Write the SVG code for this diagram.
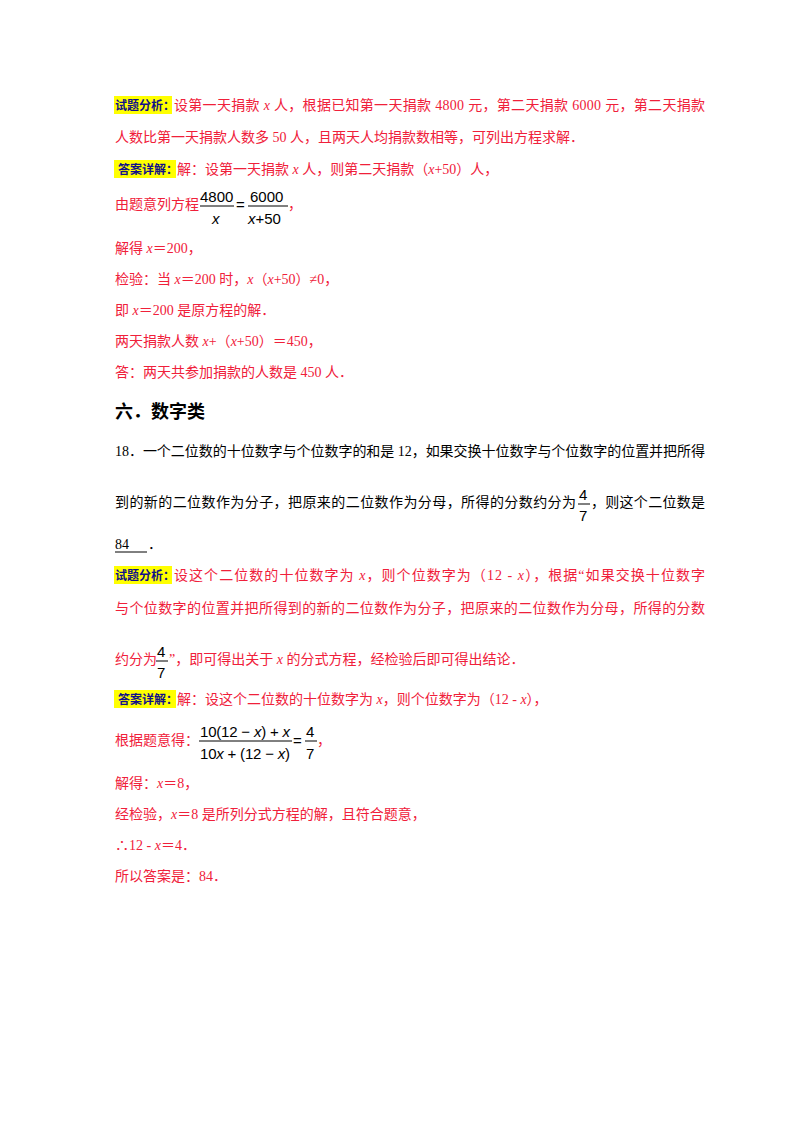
<svg xmlns="http://www.w3.org/2000/svg" width="800" height="1132" viewBox="0 0 800 1132">
<style>
text{font-family:"Liberation Serif","Noto Sans CJK SC",serif;font-size:14px}
.r{fill:#f0203a}
.k{fill:#000}
.lb{fill:#10108a;font-weight:bold;font-family:"Noto Sans CJK SC",sans-serif;font-size:12px}
.hl{fill:#ffff00}
.m{font-family:"Liberation Sans","Noto Sans CJK SC",sans-serif;fill:#000;font-size:15px}
.i{font-style:italic}
.fl{stroke:#000;stroke-width:1}
</style>
<rect width="800" height="1132" fill="#fff"/>
<g id="part1">
<rect class="hl" x="114" y="96" width="58" height="18"/>
<text class="lb" x="115" y="110">试题分析：</text>
<text class="r" x="174" y="110" textLength="531">设第一天捐款 <tspan class="i">x</tspan> 人，根据已知第一天捐款 4800 元，第二天捐款 6000 元，第二天捐款</text>
<text class="r" x="115" y="142">人数比第一天捐款人数多 50 人，且两天人均捐款数相等，可列出方程求解．</text>
<rect class="hl" x="114" y="160" width="62" height="18"/>
<text class="lb" x="118" y="174">答案详解：</text>
<text class="r" x="177" y="174">解：设第一天捐款 <tspan class="i">x</tspan> 人，则第二天捐款（<tspan class="i">x</tspan>+50）人，</text>
<text class="r" x="115" y="209">由题意列方程</text>
<text class="m" x="200" y="202">4800</text>
<line class="fl" x1="200" y1="206" x2="234" y2="206"/>
<text class="m i" x="212" y="224">x</text>
<text class="m" x="236" y="210">=</text>
<text class="m" x="250" y="202">6000</text>
<line class="fl" x1="248" y1="206" x2="288" y2="206"/>
<text class="m" x="248" y="224"><tspan class="i">x</tspan>+50</text>
<text class="r" x="288" y="209">，</text>
<text class="r" x="115" y="253">解得 <tspan class="i">x</tspan>＝200，</text>
<text class="r" x="115" y="284">检验：当 <tspan class="i">x</tspan>＝200 时，<tspan class="i">x</tspan>（<tspan class="i">x</tspan>+50）≠0，</text>
<text class="r" x="115" y="315">即 <tspan class="i">x</tspan>＝200 是原方程的解．</text>
<text class="r" x="115" y="346">两天捐款人数 <tspan class="i">x</tspan>+（<tspan class="i">x</tspan>+50）＝450，</text>
<text class="r" x="115" y="377">答：两天共参加捐款的人数是 450 人．</text>
</g>
<g id="part2">
<text x="115" y="418" style="font-family:'Noto Sans CJK SC',sans-serif;font-weight:bold;font-size:18px">六．数字类</text>
<text class="k" x="115" y="456" textLength="590">18．一个二位数的十位数字与个位数字的和是 12，如果交换十位数字与个位数字的位置并把所得</text>
<text class="k" x="115" y="507" textLength="461">到的新的二位数作为分子，把原来的二位数作为分母，所得的分数约分为</text>
<text class="m" x="579" y="500">4</text>
<line class="fl" x1="578" y1="504" x2="590" y2="504"/>
<text class="m" x="579" y="521">7</text>
<text class="k" x="591" y="507" textLength="114">，则这个二位数是</text>
<text class="k" x="115" y="549">84</text>
<line class="fl" x1="115" y1="552" x2="147" y2="552"/>
<text class="k" x="148" y="549">．</text>
<rect class="hl" x="114" y="566" width="58" height="18"/>
<text class="lb" x="115" y="580">试题分析：</text>
<text class="r" x="174" y="580" textLength="531">设这个二位数的十位数字为 <tspan class="i">x</tspan>，则个位数字为（12 - <tspan class="i">x</tspan>），根据“如果交换十位数字</text>
<text class="r" x="115" y="613" textLength="590">与个位数字的位置并把所得到的新的二位数作为分子，把原来的二位数作为分母，所得的分数</text>
<text class="r" x="115" y="664">约分为</text>
<text class="m" x="157" y="657">4</text>
<line class="fl" x1="156" y1="661" x2="168" y2="661"/>
<text class="m" x="157" y="678">7</text>
<text class="r" x="169" y="664">”，即可得出关于 <tspan class="i">x</tspan> 的分式方程，经检验后即可得出结论．</text>
<rect class="hl" x="114" y="690" width="62" height="18"/>
<text class="lb" x="118" y="704">答案详解：</text>
<text class="r" x="177" y="704">解：设这个二位数的十位数字为 <tspan class="i">x</tspan>，则个位数字为（12 - <tspan class="i">x</tspan>），</text>
<text class="r" x="115" y="745">根据题意得：</text>
<text class="m" x="200" y="737" textLength="90">10(12 − <tspan class="i">x</tspan>) + <tspan class="i">x</tspan></text>
<line class="fl" x1="199" y1="741" x2="292" y2="741"/>
<text class="m" x="200" y="759" textLength="90">10<tspan class="i">x</tspan> + (12 − <tspan class="i">x</tspan>)</text>
<text class="m" x="293" y="746">=</text>
<text class="m" x="306" y="737">4</text>
<line class="fl" x1="305" y1="741" x2="317" y2="741"/>
<text class="m" x="306" y="759">7</text>
<text class="r" x="317" y="745">，</text>
<text class="r" x="115" y="788">解得：<tspan class="i">x</tspan>＝8，</text>
<text class="r" x="115" y="819">经检验，<tspan class="i">x</tspan>＝8 是所列分式方程的解，且符合题意，</text>
<text class="r" x="115" y="850">∴12 - <tspan class="i">x</tspan>＝4．</text>
<text class="r" x="115" y="881">所以答案是：84．</text>
</g>
</svg>
